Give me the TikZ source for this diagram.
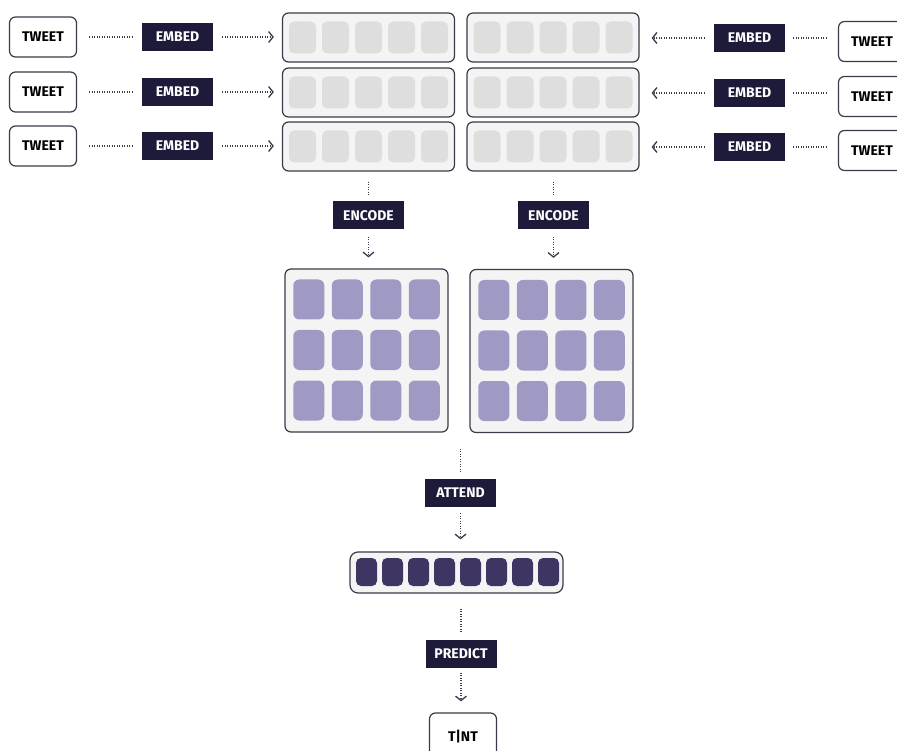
\documentclass[tikz,border=0pt]{standalone}
\usepackage{fontspec}
\setmainfont{Fira Sans}
\usetikzlibrary{arrows.meta,calc}
\definecolor{navy}{HTML}{1E1B3A}
\definecolor{edgec}{HTML}{3B3A4A}
\definecolor{boxfill}{HTML}{F4F4F4}
\definecolor{cellgray}{HTML}{DEDEDE}
\definecolor{cellpurp}{HTML}{9E9AC4}
\definecolor{celldark}{HTML}{3E3562}
\tikzset{
  txt/.style={font=\fontsize{14}{16}\selectfont\bfseries},
  tweet/.style={txt, draw=edgec, line width=1.2pt, rounded corners=6pt, fill=white, minimum width=67pt, minimum height=40pt, inner sep=0pt},
  lab/.style={txt, fill=navy, text=white, minimum width=71pt, minimum height=28pt, inner sep=0pt},
  seqbox/.style={draw=edgec, line width=1.2pt, rounded corners=6pt, fill=boxfill, minimum width=172pt, minimum height=49pt, inner sep=0pt},
  gridbox/.style={draw=edgec, line width=1.2pt, rounded corners=6pt, fill=boxfill, minimum width=163pt, minimum height=163pt, inner sep=0pt},
  vecbox/.style={draw=edgec, line width=1.2pt, rounded corners=8pt, fill=boxfill, minimum width=213pt, minimum height=41pt, inner sep=0pt},
  gcell/.style={fill=cellgray, rounded corners=5pt, minimum width=27pt, minimum height=32pt, inner sep=0pt},
  pcell/.style={fill=cellpurp, rounded corners=6pt, minimum width=31pt, minimum height=40pt, inner sep=0pt},
  dcell/.style={fill=celldark, rounded corners=5pt, minimum width=21pt, minimum height=28pt, inner sep=0pt},
  dots/.style={draw=edgec, line width=1.4pt, dash pattern=on 1.1pt off 1.4pt},
  arr/.style={dots, -{Straight Barb[length=4.5pt,width=11pt,line width=1.3pt]}},
}
\begin{document}
\begin{tikzpicture}[x=1pt,y=-1pt]
\useasboundingbox (0,0) rectangle (897,751);
\clip (0,0) rectangle (897,751);
% rows
\foreach \i/\yl/\yr in {1/37/41.5, 2/92/96.5, 3/146/150.5}{
  \node[tweet] (twL\i) at (43,\yl) {TWEET};
  \node[lab] (emL\i) at (177.5,\yl) {EMBED};
  \node[seqbox] (sqL\i) at (368.5,{\yl+0.5}) {};
  \foreach \c in {0,...,4}{
    \node[gcell] (gL\i\c) at ({302.5+33*\c},{\yl+0.5}) {};
  }
  \node[seqbox] (sqR\i) at (553,{\yl+0.5}) {};
  \foreach \c in {0,...,4}{
    \node[gcell] (gR\i\c) at ({487+33*\c},{\yl+0.5}) {};
  }
  \node[lab] (emR\i) at (749.5,{\yr-3.5}) {EMBED};
  \node[tweet] (twR\i) at (872,\yr) {TWEET};
  \draw[dots, shorten <=12pt, shorten >=10pt] (twL\i.east) -- (emL\i.west |- twL\i.east);
  \draw[arr, shorten <=9pt, shorten >=8pt] (emL\i.east) -- (sqL\i.west |- emL\i.east);
  \draw[dots, shorten <=11pt, shorten >=8pt] (twR\i.west |- emR\i.east) -- (emR\i.east);
  \draw[arr, shorten <=9pt, shorten >=12pt] (emR\i.west) -- (sqR\i.east |- emR\i.west);
}
% encode
\node[lab] (encL) at (368.5,215.5) {ENCODE};
\node[lab] (encR) at (553.5,215.5) {ENCODE};
\node[gridbox] (grL) at (366.5,350.5) {};
\node[gridbox] (grR) at (551.5,351) {};
\foreach \r in {0,1,2}{
  \foreach \c in {0,...,3}{
    \node[pcell] (pL\r\c) at ({308.75+38.5*\c},{299.5+50.5*\r}) {};
    \node[pcell] (pR\r\c) at ({493.75+38.5*\c},{300+50.5*\r}) {};
  }
}
\draw[dots, shorten <=10pt, shorten >=7pt] (sqL3.south -| encL.north) -- (encL.north);
\draw[arr, shorten <=7pt, shorten >=11pt] (encL.south) -- (encL.south |- grL.north);
\draw[dots, shorten <=10pt, shorten >=7pt] (sqR3.south -| encR.north) -- (encR.north);
\draw[arr, shorten <=7pt, shorten >=11pt] (encR.south) -- (encR.south |- grR.north);
% attend
\coordinate (gmid) at ($(grL.south east)!0.5!(grR.south west)$);
\node[lab] (att) at (460.5,493) {ATTEND};
\node[vecbox] (vec) at (456.5,572.5) {};
\foreach \c in {0,...,7}{
  \node[dcell] (d\c) at ({366.5+26*\c},572) {};
}
\draw[dots, shorten <=16pt, shorten >=7pt] (gmid -| att.north) -- (att.north);
\draw[arr, shorten <=6pt, shorten >=12pt] (att.south) -- (att.south |- vec.north);
% predict
\node[lab] (pred) at (461,653.5) {PREDICT};
\node[tweet, minimum height=48pt] (tint) at (463,737) {T|NT};
\draw[dots, shorten <=15pt, shorten >=6pt] (vec.south -| pred.north) -- (pred.north);
\draw[arr, shorten <=5pt, shorten >=11pt] (pred.south) -- (pred.south |- tint.north);
\end{tikzpicture}
\end{document}
